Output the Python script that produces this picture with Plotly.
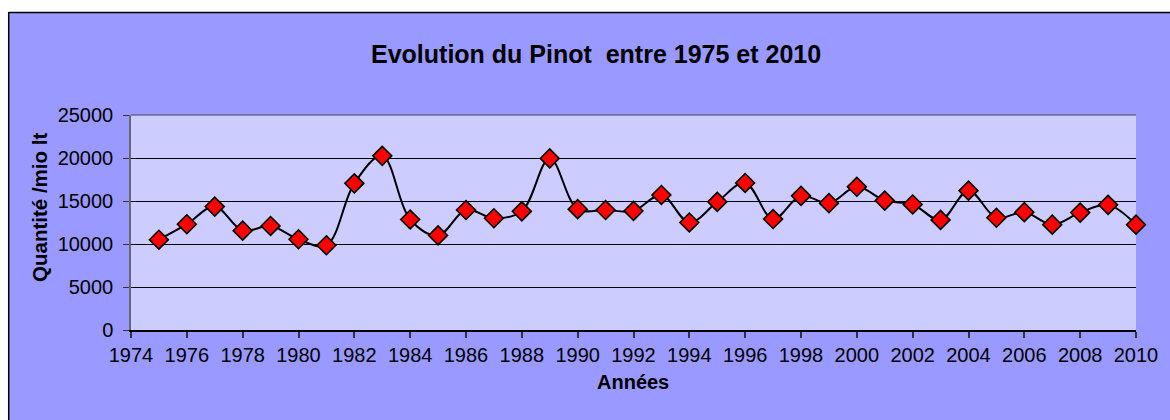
import plotly.graph_objects as go

years = list(range(1975, 2011))
quantities = [10500, 12300, 14350, 11550, 12100, 10550, 9850, 17050, 20250, 12850,
              11000, 13950, 13000, 13800, 19950, 14050, 13950, 13850, 15700, 12500,
              14900, 17100, 12900, 15600, 14750, 16650, 15050, 14600, 12800, 16200,
              13050, 13700, 12250, 13650, 14550, 12250]

title_text = "Evolution du Pinot  entre 1975 et 2010"
x_title = "Années"
y_title = "Quantité /mio lt"

W, H = 1170, 420
L, R, T, B = 131, 1146, 115, 330
pw, ph = R - L, B - T

def px(sx):
    """screen x pixel -> paper x"""
    return (sx - L) / pw

def py(sy):
    """screen y pixel -> paper y"""
    return (B - sy) / ph

FONT = "Liberation Sans, Arial, sans-serif"

fig = go.Figure()
fig.add_trace(go.Scatter(
    x=years, y=quantities, mode="lines+markers",
    line=dict(color="black", width=2, shape="spline", smoothing=1),
    marker=dict(symbol="diamond", size=14.5, color="#FF0000",
                line=dict(color="black", width=1.6)),
    showlegend=False, cliponaxis=False,
))

fig.update_layout(
    width=W, height=H, autosize=False,
    margin=dict(l=L, r=W - R, t=T, b=H - B, pad=0),
    paper_bgcolor="#9999FF",
    plot_bgcolor="#CCCCFF",
    font=dict(family=FONT, size=20, color="black"),
    xaxis=dict(range=[1974, 2010], dtick=2, tick0=1974, showgrid=False,
               showline=True, linecolor="black", linewidth=1.5,
               ticks="outside", ticklen=6, tickcolor="#333333", tickwidth=1.5,
               tickfont=dict(size=20), zeroline=False, fixedrange=True,
               tickformat="d"),
    yaxis=dict(range=[0, 25000], dtick=5000, showgrid=True, gridcolor="black",
               gridwidth=1.2, showline=True, linecolor="#666677", linewidth=1.5,
               ticks="outside", ticklen=6, tickcolor="#333333", tickwidth=1.2,
               tickfont=dict(size=20), zeroline=False, ticklabelstandoff=6,
               fixedrange=True, tickformat="d"),
    shapes=[
        dict(type="rect", xref="paper", yref="paper", x0=px(-20), x1=px(1300),
             y0=py(12), y1=py(-20), fillcolor="white", line=dict(width=0), layer="above"),
        dict(type="rect", xref="paper", yref="paper", x0=px(-20), x1=px(7),
             y0=py(460), y1=py(-20), fillcolor="white", line=dict(width=0), layer="above"),
        dict(type="line", xref="paper", yref="paper", x0=px(7.5), x1=px(1300),
             y0=py(12.5), y1=py(12.5), line=dict(color="black", width=1.5), layer="above"),
        dict(type="line", xref="paper", yref="paper", x0=px(7.5), x1=px(7.5),
             y0=py(12), y1=py(460), line=dict(color="black", width=1.5), layer="above"),
        dict(type="line", xref="paper", yref="paper", x0=0, x1=1, y0=1, y1=1,
             line=dict(color="#444455", width=1.2), layer="above"),
    ],
    annotations=[
        dict(text="<b>" + title_text + "</b>", xref="paper", yref="paper",
             x=px(600.5), y=py(54), xanchor="center", yanchor="middle",
             showarrow=False, font=dict(size=25, family=FONT)),
        dict(text="<b>" + x_title + "</b>", xref="paper", yref="paper",
             x=px(638), y=py(382), xanchor="center", yanchor="middle",
             showarrow=False, font=dict(size=20, family=FONT)),
        dict(text="<b>" + y_title + "</b>", xref="paper", yref="paper",
             x=px(38), y=py(207), xanchor="center", yanchor="middle",
             textangle=-90, showarrow=False, font=dict(size=20.5, family=FONT)),
    ],
)

fig.write_html("out.html",
               config={"responsive": False, "displayModeBar": False},
               post_script="document.body.style.margin='0';"
                           "document.documentElement.style.overflow='hidden';")
